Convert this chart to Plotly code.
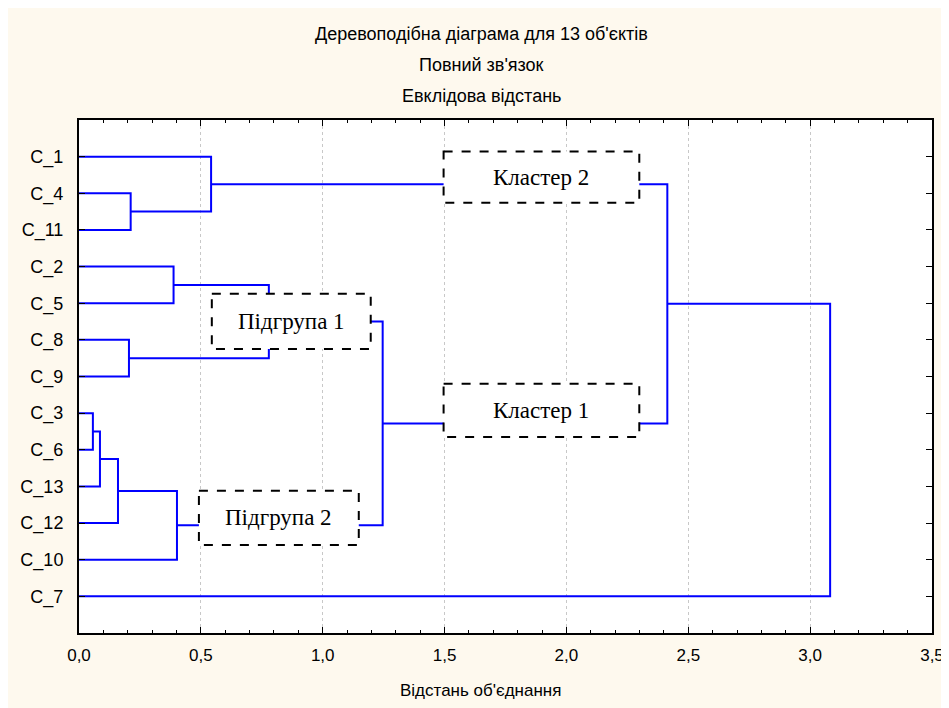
import plotly.graph_objects as go

# ---- data ----
leaf_labels = ["C_1", "C_4", "C_11", "C_2", "C_5", "C_8", "C_9",
               "C_3", "C_6", "C_13", "C_12", "C_10", "C_7"]
# merges: (left node, right node, linkage distance); new nodes numbered from 13
merge_left = [1, 0, 3, 5, 15, 7, 18, 19, 20, 17, 14, 23]
merge_right = [2, 13, 4, 6, 16, 8, 9, 10, 11, 21, 22, 12]
merge_height = [0.212, 0.542, 0.388, 0.205, 0.779, 0.057, 0.086, 0.160,
                0.402, 1.246, 2.414, 3.082]

box_labels = ["Кластер 2", "Кластер 1", "Підгрупа 1", "Підгрупа 2"]
title_lines = ["Деревоподібна діаграма для 13 об'єктів", "Повний зв'язок", "Евклідова відстань"]
x_title = "Відстань об'єднання"

# ---- build dendrogram coordinates ----
n = len(leaf_labels)
pos = {i: i + 1 for i in range(n)}
hgt = {i: 0.0 for i in range(n)}
xs, ys = [], []
for k, (a, b, h) in enumerate(zip(merge_left, merge_right, merge_height)):
    node = n + k
    xs += [hgt[a], h, h, hgt[b], None]
    ys += [pos[a], pos[a], pos[b], pos[b], None]
    pos[node] = (pos[a] + pos[b]) / 2
    hgt[node] = h

fig = go.Figure()
fig.add_trace(go.Scatter(x=xs, y=ys, mode="lines",
                         line=dict(color="#0000FF", width=2),
                         hoverinfo="skip", showlegend=False))

W, H = 949, 708
L, R, T, B = 69, 25, 112, 83
pw, ph = W - L - R, H - T - B

def px(xp):
    return (xp - L) / pw

def py(yp):
    return (H - B - yp) / ph

SANS = "Liberation Sans, Arial, sans-serif"
SERIF = "Liberation Serif, Times New Roman, serif"

shapes = []
# label boxes (x0, x1, y0, y1) in data units
boxes = [(1.496, 2.299, 0.86, 2.26), (1.496, 2.299, 7.2, 8.65),
         (0.545, 1.197, 4.74, 6.25), (0.492, 1.148, 10.12, 11.6)]
annotations = []
for (x0, x1, y0, y1), txt in zip(boxes, box_labels):
    shapes.append(dict(type="rect", xref="x", yref="y", x0=x0, x1=x1, y0=y0, y1=y1,
                       fillcolor="white", line=dict(color="black", width=2, dash="dash"),
                       layer="above"))
    annotations.append(dict(x=(x0 + x1) / 2, y=(y0 + y1) / 2, xref="x", yref="y",
                            text=txt, showarrow=False,
                            font=dict(family=SERIF, size=23, color="black")))

for t, yp in zip(title_lines, [26, 57, 88]):
    annotations.append(dict(x=px(472), y=py(yp), xref="paper", yref="paper", text=t,
                            showarrow=False, xanchor="center", yanchor="middle",
                            font=dict(family=SANS, size=18, color="black")))
annotations.append(dict(x=px(471), y=py(682), xref="paper", yref="paper", text=x_title,
                        showarrow=False, xanchor="center", yanchor="middle",
                        font=dict(family=SANS, size=17, color="black")))

fig.update_layout(
    width=W, height=H,
    margin=dict(l=L, r=R, t=T, b=B),
    paper_bgcolor="#FEF9EE", plot_bgcolor="white",
    separators=", ",
    shapes=shapes, annotations=annotations,
    font=dict(family=SANS, size=17, color="black"),
)
fig.update_xaxes(range=[0, 3.5], dtick=0.5, tick0=0, tickformat=".1f",
                 showline=True, linecolor="black", linewidth=2, mirror="ticks",
                 ticks="inside", ticklen=6, tickcolor="black", tickwidth=1,
                 minor=dict(dtick=0.1, ticks="inside", ticklen=3, tickcolor="black", showgrid=False),
                 showgrid=True, gridcolor="#C8C8C8", griddash="dot", gridwidth=1,
                 zeroline=False, tickfont=dict(size=17), ticklabelstandoff=6)
fig.update_yaxes(range=[14, 0], tickvals=list(range(1, n + 1)), ticktext=leaf_labels,
                 showline=True, linecolor="black", linewidth=2, mirror="ticks",
                 ticks="inside", ticklen=6, tickcolor="black", tickwidth=1,
                 showgrid=False, zeroline=False, tickfont=dict(size=18), ticklabelstandoff=10)

fig.write_html("out.html")
